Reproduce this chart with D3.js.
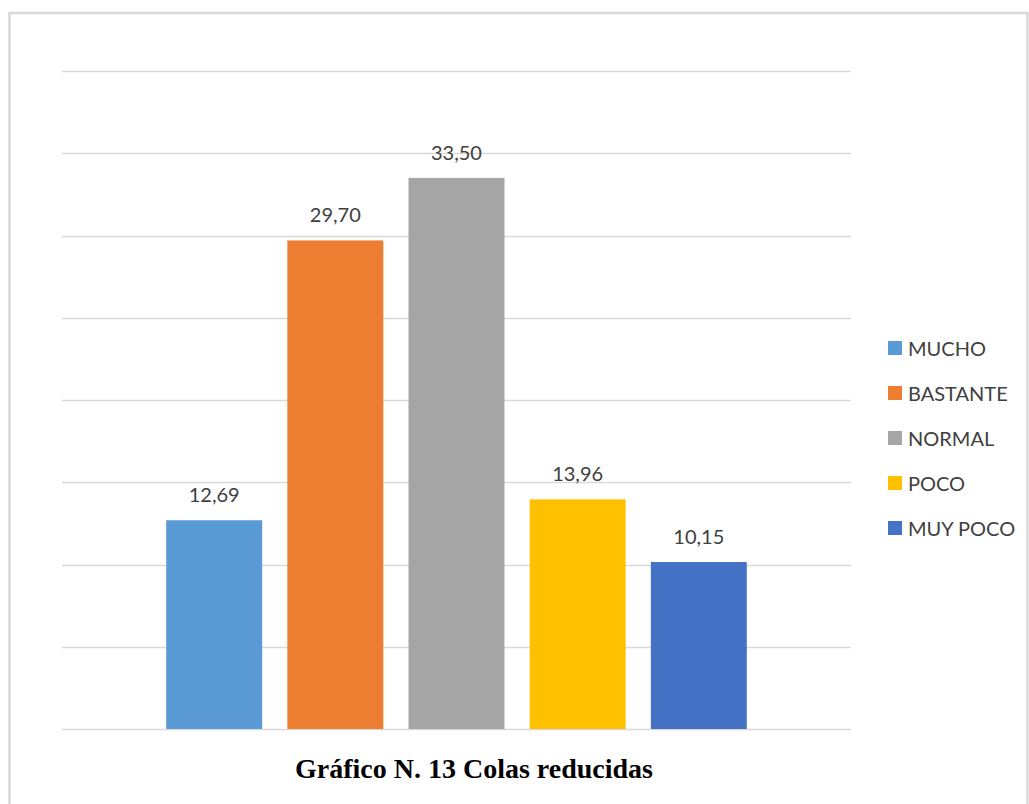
<!DOCTYPE html>
<html>
<head>
<meta charset="utf-8">
<script src="https://cdn.jsdelivr.net/npm/d3@7"></script>
<style>
  body { margin: 0; background: #fff; }
  svg { display: block; }
</style>
</head>
<body>
<svg width="1029" height="804"></svg>
<script>
(function() {
  'use strict';

  const categories = ['MUCHO', 'BASTANTE', 'NORMAL', 'POCO', 'MUY POCO'];
  const values = [12.69, 29.70, 33.50, 13.96, 10.15];
  const colors = ['#5b9bd5', '#ed7d31', '#a5a5a5', '#ffc000', '#4472c4'];
  const yTicks = [0, 5, 10, 15, 20, 25, 30, 35, 40];
  const title = 'Gráfico N. 13 Colas reducidas';

  const svg = d3.select('svg');
  const plot = {left: 62, right: 851, top: 71, bottom: 729};

  // chart frame
  svg.append('rect')
      .attr('x', 9.5)
      .attr('y', 13)
      .attr('width', 1018)
      .attr('height', 820)
      .attr('fill', 'none')
      .attr('stroke', '#d9d9d9')
      .attr('stroke-width', 2.5);

  const y = d3.scaleLinear()
      .domain([0, 40])
      .range([plot.bottom, plot.top]);

  const x = d3.scaleBand()
      .domain(categories)
      .range([plot.left, plot.right])
      .paddingInner(0.208)
      .paddingOuter(0.86);

  svg.append('g')
      .selectAll('line')
      .data(yTicks)
      .join('line')
      .attr('x1', plot.left)
      .attr('x2', plot.right)
      .attr('y1', (d) => Math.round(y(d)) + 0.5)
      .attr('y2', (d) => Math.round(y(d)) + 0.5)
      .attr('stroke', '#d9d9d9')
      .attr('stroke-width', 1.5);

  svg.append('g')
      .selectAll('rect')
      .data(values)
      .join('rect')
      .attr('x', (d, i) => x(categories[i]))
      .attr('y', (d) => y(d))
      .attr('width', x.bandwidth())
      .attr('height', (d) => y(0) - y(d))
      .attr('fill', (d, i) => colors[i]);

  svg.append('g')
      .selectAll('text')
      .data(values)
      .join('text')
      .attr('x', (d, i) => x(categories[i]) + x.bandwidth() / 2)
      .attr('y', (d) => y(d) - 18)
      .attr('text-anchor', 'middle')
      .attr('font-family', 'Lato, "Open Sans", sans-serif')
      .attr('font-size', 20)
      .attr('fill', '#404040')
      .text((d) => d.toFixed(2).replace('.', ','));

  const legend = svg.append('g')
      .selectAll('g')
      .data(categories)
      .join('g')
      .attr('transform', (d, i) => 'translate(888,' + (348 + i * 45) + ')');

  legend.append('rect')
      .attr('x', 0)
      .attr('y', -7)
      .attr('width', 14)
      .attr('height', 14)
      .attr('fill', (d, i) => colors[i]);

  legend.append('text')
      .attr('x', 20)
      .attr('y', 7.5)
      .attr('font-family', 'Lato, "Open Sans", sans-serif')
      .attr('font-size', 20)
      .attr('fill', '#404040')
      .text((d) => d);

  svg.append('text')
      .attr('x', 474)
      .attr('y', 778)
      .attr('text-anchor', 'middle')
      .attr('font-family', '"Liberation Serif", "Times New Roman", serif')
      .attr('font-weight', 'bold')
      .attr('font-size', 28)
      .attr('fill', '#000')
      .text(title);
})();
</script>
</body>
</html>
